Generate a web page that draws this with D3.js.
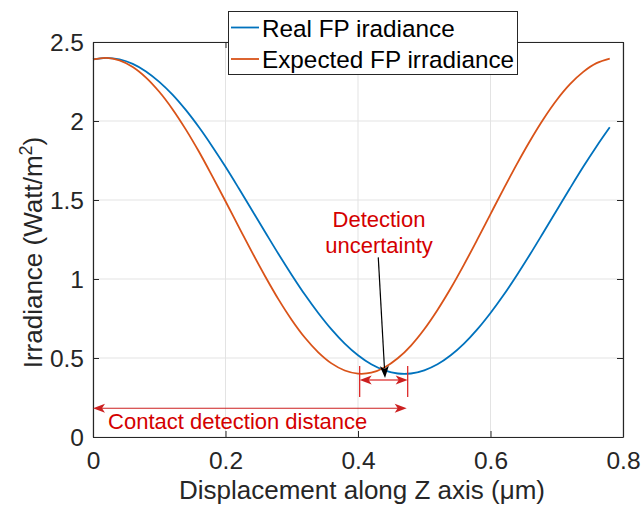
<!DOCTYPE html>
<html><head><meta charset="utf-8">
<script src="https://cdn.jsdelivr.net/npm/d3@7"></script>
<style>
html,body{margin:0;padding:0;background:#fff;}
svg{display:block;font-family:"Liberation Sans",Arial,Helvetica,sans-serif;}
</style></head>
<body>
<svg id="chart" width="644" height="507"></svg>
<script>
// ---- data ----
const displacement = [0,0.02,0.04,0.06,0.08,0.10,0.12,0.14,0.16,0.18,0.20,0.22,0.24,0.26,0.28,0.30,0.32,0.34,0.36,0.38,0.40,0.42,0.44,0.46,0.48,0.50,0.52,0.54,0.56,0.58,0.60,0.62,0.64,0.66,0.68,0.70,0.72,0.74,0.76,0.78];
const realIrradiance = [2.390,2.400,2.390,2.362,2.314,2.248,2.167,2.070,1.960,1.839,1.710,1.574,1.435,1.296,1.158,1.026,0.900,0.785,0.681,0.591,0.517,0.460,0.422,0.402,0.402,0.422,0.460,0.517,0.591,0.681,0.785,0.900,1.026,1.158,1.296,1.435,1.574,1.710,1.839,1.960];
const expectedIrradiance = [2.390,2.400,2.384,2.342,2.275,2.185,2.075,1.947,1.805,1.651,1.492,1.330,1.170,1.016,0.871,0.741,0.628,0.536,0.466,0.421,0.401,0.407,0.440,0.498,0.579,0.682,0.804,0.941,1.091,1.249,1.411,1.572,1.729,1.877,2.013,2.133,2.233,2.311,2.366,2.395];
const xTicks = [0,0.2,0.4,0.6,0.8];
const yTicks = [0,0.5,1,1.5,2,2.5];
const xTickLabels = ["0","0.2","0.4","0.6","0.8"];
const yTickLabels = ["0","0.5","1","1.5","2","2.5"];
const seriesNames = ["Real FP iradiance","Expected FP irradiance"];
const seriesColors = ["#0072BD","#D95319"];

// ---- layout ----
const svg = d3.select("#chart");
const L = 93, R = 623, T = 42, B = 437;
const x = d3.scaleLinear().domain([0,0.8]).range([L,R]);
const y = d3.scaleLinear().domain([0,2.5]).range([B,T]);
const axisColor = "#262626";
const red = "#d40000";

// grid
const grid = svg.append("g");
grid.selectAll(".gx").data(xTicks).join("line")
  .attr("x1",d=>x(d)).attr("x2",d=>x(d)).attr("y1",T).attr("y2",B)
  .attr("stroke","#e3e3e3").attr("stroke-width",1);
grid.selectAll(".gy").data(yTicks).join("line")
  .attr("y1",d=>y(d)).attr("y2",d=>y(d)).attr("x1",L).attr("x2",R)
  .attr("stroke","#e3e3e3").attr("stroke-width",1);

// lines
const line = d3.line().curve(d3.curveCatmullRom.alpha(0.5));
[realIrradiance, expectedIrradiance].forEach((vals,i)=>{
  svg.append("path")
    .attr("d", line(displacement.map((d,j)=>[x(d), y(vals[j])])))
    .attr("fill","none").attr("stroke",seriesColors[i]).attr("stroke-width",1.8);
});

// axes (box with inward ticks)
const fmtX = (d,i)=>xTickLabels[i], fmtY=(d,i)=>yTickLabels[i];
const ax = [
  svg.append("g").attr("transform",`translate(0,${B})`).call(d3.axisBottom(x).tickValues(xTicks).tickFormat(fmtX).tickSizeInner(-6).tickSizeOuter(0).tickPadding(15)),
  svg.append("g").attr("transform",`translate(0,${T})`).call(d3.axisTop(x).tickValues(xTicks).tickFormat("").tickSizeInner(-6).tickSizeOuter(0)),
  svg.append("g").attr("transform",`translate(${L},0)`).call(d3.axisLeft(y).tickValues(yTicks).tickFormat(fmtY).tickSizeInner(-6).tickSizeOuter(0).tickPadding(9)),
  svg.append("g").attr("transform",`translate(${R},0)`).call(d3.axisRight(y).tickValues(yTicks).tickFormat("").tickSizeInner(-6).tickSizeOuter(0))
];
ax.forEach(g=>{
  g.select(".domain").attr("stroke",axisColor).attr("stroke-width",1.2);
  g.selectAll(".tick line").attr("stroke",axisColor).attr("stroke-width",1);
  g.selectAll(".tick text").attr("fill",axisColor).attr("font-size",24.5)
    .attr("font-family","Liberation Sans, Arial, sans-serif");
});
ax[2].selectAll(".tick text").attr("dy","0.36em");

// axis labels
svg.append("text").attr("x",(L+R)/2+4).attr("y",499).attr("text-anchor","middle")
  .attr("font-size",26).attr("fill",axisColor).text("Displacement along Z axis (μm)");
const yl = svg.append("text").attr("transform",`translate(42,${(T+B)/2+13}) rotate(-90)`)
  .attr("text-anchor","middle").attr("font-size",26).attr("fill",axisColor);
yl.append("tspan").text("Irradiance (Watt/m");
yl.append("tspan").attr("font-size",18).attr("dy",-10).text("2");
yl.append("tspan").attr("dy",10).text(")");

// arrow head helper (MATLAB vback style)
function head(tipX, tipY, fromX, fromY, color, len=12, hw=4.5, back=3){
  const a = Math.atan2(tipY-fromY, tipX-fromX);
  const c = Math.cos(a), s = Math.sin(a);
  const pts = [
    [tipX, tipY],
    [tipX - len*c + hw*s, tipY - len*s - hw*c],
    [tipX - (len-back)*c, tipY - (len-back)*s],
    [tipX - len*c - hw*s, tipY - len*s + hw*c]
  ];
  svg.append("path").attr("d","M"+pts.map(p=>p.join(",")).join("L")+"Z").attr("fill",color);
}

// contact detection distance arrow
const cY = y(0.182), cX0 = x(0), cX1 = x(0.4735);
svg.append("line").attr("x1",cX0+8).attr("x2",cX1-8).attr("y1",cY).attr("y2",cY).attr("stroke","#cc2020").attr("stroke-width",1.2);
head(cX0,cY,cX1,cY,"#cc2020");
head(cX1,cY,cX0,cY,"#cc2020");
svg.append("text").attr("x",x(0.0227)).attr("y",y(0.05)).attr("font-size",22).attr("fill",red).text("Contact detection distance");

// detection uncertainty
const uX0 = x(0.4025), uX1 = x(0.475), uY = y(0.36);
[uX0,uX1].forEach(v=>svg.append("line").attr("x1",v).attr("x2",v).attr("y1",y(0.449)).attr("y2",y(0.253)).attr("stroke","#dd2a2a").attr("stroke-width",1.3));
svg.append("line").attr("x1",uX0+8).attr("x2",uX1-8).attr("y1",uY).attr("y2",uY).attr("stroke","#ea7a7a").attr("stroke-width",2);
head(uX0,uY,uX1,uY,"#cc2020");
head(uX1,uY,uX0,uY,"#cc2020");
svg.append("text").attr("x",x(0.4317)).attr("y",y(1.329)).attr("text-anchor","middle").attr("font-size",22).attr("fill",red).text("Detection");
svg.append("text").attr("x",x(0.4317)).attr("y",y(1.165)).attr("text-anchor","middle").attr("font-size",22).attr("fill",red).text("uncertainty");
const bx0 = x(0.4306), by0 = y(1.137), bx1 = x(0.4408), by1 = y(0.373);
svg.append("line").attr("x1",bx0).attr("y1",by0).attr("x2",bx1-(bx1-bx0)*0.08).attr("y2",by1-(by1-by0)*0.08).attr("stroke","#000").attr("stroke-width",1.2);
head(bx1,by1,bx0,by0,"#000");

// legend
const lg = svg.append("g");
lg.append("rect").attr("x",228.5).attr("y",11.5).attr("width",289).attr("height",63)
  .attr("fill","#fff").attr("stroke",axisColor).attr("stroke-width",1);
seriesNames.forEach((n,i)=>{
  const cy = 27.5 + i*31.5;
  lg.append("line").attr("x1",231).attr("x2",259).attr("y1",cy).attr("y2",cy).attr("stroke",seriesColors[i]).attr("stroke-width",1.8);
  lg.append("text").attr("x",262).attr("y",cy+9).attr("font-size",24.3).attr("fill","#000").text(n);
});
</script>
</body></html>
